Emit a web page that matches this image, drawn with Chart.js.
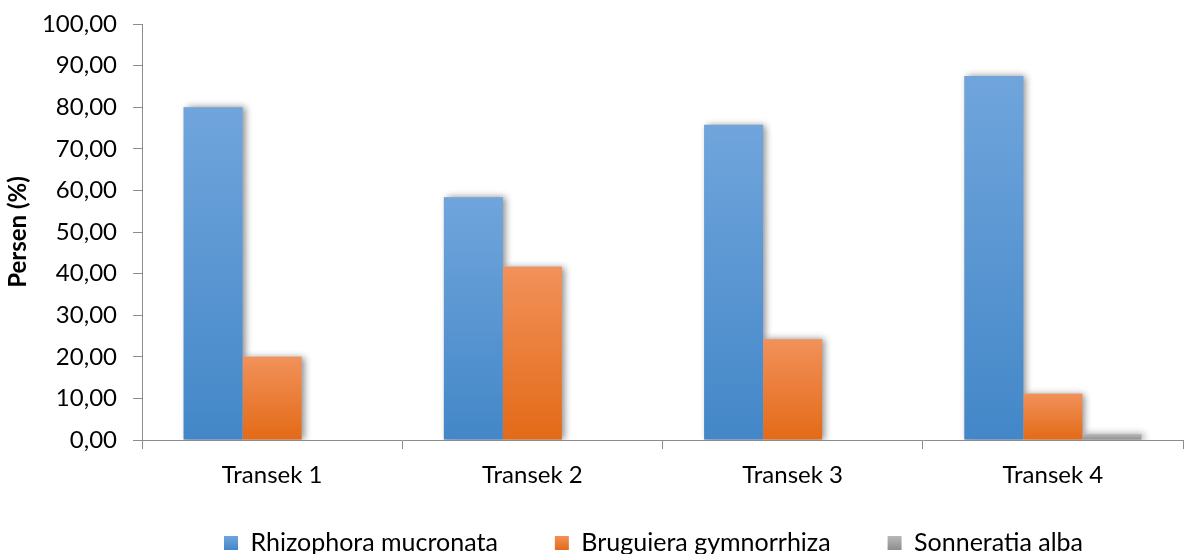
<!DOCTYPE html>
<html>
<head>
<meta charset="utf-8">
<script src="https://cdn.jsdelivr.net/npm/chart.js@4"></script>
<style>
  html, body { margin: 0; padding: 0; background: #ffffff; }
  #wrap { width: 1184px; height: 554px; position: relative; }
</style>
</head>
<body>
<div id="wrap"><canvas id="c" width="1184" height="554"></canvas></div>
<script>
const categories = ['Transek 1', 'Transek 2', 'Transek 3', 'Transek 4'];
const seriesNames = ['Rhizophora mucronata', 'Bruguiera gymnorrhiza', 'Sonneratia alba'];
const rhizophora = [80.00, 58.33, 75.76, 87.50];
const bruguiera = [20.00, 41.67, 24.24, 11.11];
const sonneratia = [0.00, 0.00, 0.00, 1.39];
const yTicks = [0, 10, 20, 30, 40, 50, 60, 70, 80, 90, 100];

const FONT = 'Lato, "Noto Sans", sans-serif';

const topColors = ['#70a5dc', '#f2915a', '#b8b8b8'];
const bottomColors = ['#4387c8', '#e36a17', '#8e8e8e'];

function grad(i) {
  return (c) => {
    const chart = c.chart;
    if (c.type !== 'data' || !chart.chartArea || !chart.scales.y) return bottomColors[i];
    const ys = chart.scales.y;
    const y0 = ys.getPixelForValue(c.raw);
    const y1 = ys.getPixelForValue(0);
    if (!isFinite(y0) || !isFinite(y1) || Math.abs(y1 - y0) < 1) return bottomColors[i];
    const g = chart.ctx.createLinearGradient(0, y0, 0, y1);
    g.addColorStop(0, topColors[i]);
    g.addColorStop(1, bottomColors[i]);
    return g;
  };
}

const LEGEND_TEXT_CENTER = 543;
const LEGEND_SHIFT_X = -9;
const LEGEND_BOX = 14;

const shadowPlugin = {
  id: 'barShadow',
  beforeDraw(chart) {
    // place the legend row near the bottom edge, like the reference
    const lg = chart.legend;
    if (lg) {
      const pad = lg.options.labels.padding;
      const fs = lg.options.labels.font.size;
      lg.top = LEGEND_TEXT_CENTER - pad - fs / 2;
      lg.left = chart.chartArea.left + LEGEND_SHIFT_X;
      lg.right = chart.chartArea.right + LEGEND_SHIFT_X;
    }
  },
  beforeDatasetsDraw(chart) {
    const ctx = chart.ctx;
    const a = chart.chartArea;
    ctx.save();
    ctx.beginPath();
    ctx.rect(a.left, 0, a.right - a.left, a.bottom);
    ctx.clip();
    ctx.shadowColor = 'rgba(0,0,0,0.45)';
    ctx.shadowBlur = 7;
    ctx.shadowOffsetX = 3;
    ctx.shadowOffsetY = 0;
    ctx.fillStyle = '#b8b8b8';
    chart.getSortedVisibleDatasetMetas().forEach(meta => {
      meta.data.forEach(bar => {
        const p = bar.getProps(['x', 'y', 'base', 'width'], true);
        if (Math.abs(p.base - p.y) < 0.5) return;
        ctx.fillRect(p.x - p.width / 2, Math.min(p.y, p.base), p.width, Math.abs(p.base - p.y));
      });
    });
    ctx.restore();
  }
};

const AXIS = '#8c8c8c';

new Chart(document.getElementById('c'), {
  type: 'bar',
  data: {
    labels: categories,
    datasets: [
      { label: seriesNames[0], data: rhizophora, backgroundColor: grad(0) },
      { label: seriesNames[1], data: bruguiera, backgroundColor: grad(1) },
      { label: seriesNames[2], data: sonneratia, backgroundColor: grad(2) }
    ]
  },
  options: {
    responsive: false,
    animation: false,
    devicePixelRatio: 1,
    categoryPercentage: 0.68,
    barPercentage: 1.0,
    layout: { padding: { top: 24, left: 0, right: 1, bottom: -38 } },
    plugins: {
      tooltip: { enabled: false },
      legend: {
        position: 'bottom',
        fullSize: false,
        labels: {
          color: '#000',
          font: { family: FONT, size: 25 },
          boxWidth: LEGEND_BOX,
          boxHeight: LEGEND_BOX,
          padding: 57,
          generateLabels(chart) {
            const ctx = chart.ctx;
            const y0 = LEGEND_TEXT_CENTER - LEGEND_BOX / 2;
            return chart.data.datasets.map((ds, i) => {
              const g = ctx.createLinearGradient(0, y0, 0, y0 + LEGEND_BOX);
              g.addColorStop(0, topColors[i]);
              g.addColorStop(1, bottomColors[i]);
              return {
                text: ds.label,
                fillStyle: g,
                strokeStyle: 'rgba(0,0,0,0)',
                lineWidth: 0,
                hidden: false,
                datasetIndex: i,
                fontColor: '#000'
              };
            });
          }
        }
      }
    },
    scales: {
      x: {
        grid: { display: true, drawOnChartArea: false, drawTicks: true, tickLength: 9, color: AXIS, offset: true },
        border: { display: true, color: AXIS, width: 1 },
        ticks: { color: '#000', font: { family: FONT, size: 24 }, padding: 12, maxRotation: 0 },
        afterFit(scale) { scale.height = 60; }
      },
      y: {
        min: 0,
        max: 100,
        afterBuildTicks(scale) { scale.ticks = yTicks.map(v => ({ value: v })); },
        grid: { display: true, drawOnChartArea: false, drawTicks: true, tickLength: 9, color: AXIS },
        border: { display: true, color: AXIS, width: 1 },
        ticks: {
          color: '#000',
          font: { family: FONT, size: 24 },
          padding: 16,
          callback: (v) => Number(v).toFixed(2).replace('.', ',')
        },
        title: {
          display: true,
          text: 'Persen (%)',
          color: '#000',
          font: { family: FONT, size: 24, weight: 'bold' },
          padding: { top: 4, bottom: 0 }
        },
        afterFit(scale) { scale.width = 142; scale.paddingTop = 0; scale.paddingBottom = 0; }
      }
    }
  },
  plugins: [shadowPlugin]
});
</script>
</body>
</html>
